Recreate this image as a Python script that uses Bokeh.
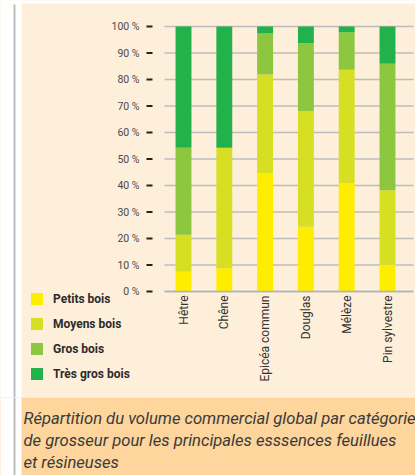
import math
from bokeh.plotting import figure
from bokeh.models import Range1d, BoxAnnotation, Label, ColumnDataSource
from bokeh.core.properties import value
from bokeh.layouts import column
from bokeh.embed import file_html
from bokeh.resources import INLINE

categories = ["Hêtre", "Chêne", "Epicéa commun", "Douglas", "Mélèze", "Pin sylvestre"]
petits_bois = [7.5, 8.8, 44.6, 24.4, 40.9, 10.1]
moyens_bois = [13.9, 45.4, 37.3, 43.7, 42.8, 28.1]
gros_bois = [32.8, 0.0, 15.5, 25.6, 14.1, 47.7]
tres_gros_bois = [45.8, 45.8, 2.6, 6.3, 2.2, 14.1]
y_ticks = [0, 10, 20, 30, 40, 50, 60, 70, 80, 90, 100]
y_tick_labels = ["0 %", "10 %", "20 %", "30 %", "40 %", "50 %", "60 %", "70 %", "80 %", "90 %", "100 %"]
series_names = ["Petits bois", "Moyens bois", "Gros bois", "Très gros bois"]
series_colors = ["#FFED00", "#D7DF23", "#8DC63F", "#22B24C"]
caption_lines = [
    "Répartition du volume commercial global par catégorie",
    "de grosseur pour les principales esssences feuillues",
    "et résineuses",
]

CREAM = "#FEEFDA"
ORANGE = "#FDD59D"
FONT = value("Roboto")

# geometry (pixels)
W = 415
TOP_H = 397            # chart band
CAP_H = 78             # caption band
STRIP_W = 21           # white strip at the left
FRAME_LEFT = 164       # left end of the plotting area
FRAME_RIGHT = 413
FIRST_CENTER = 183     # centre of first category
CAT_PX = 40.8          # pixels per category
Y0_PX = 291            # pixel row of 0 %
Y100_PX = 26           # pixel row of 100 %
PX_PER = (Y0_PX - Y100_PX) / 100.0

def dx(px):
    return px / CAT_PX

x_start = -FIRST_CENTER / CAT_PX
x_end = (W - FIRST_CENTER) / CAT_PX
y_start = -(TOP_H - Y0_PX) / PX_PER
y_end = 100 + Y100_PX / PX_PER
x_left = x_start + dx(FRAME_LEFT)
x_right = x_start + dx(FRAME_RIGHT)

def sbox(fig, left, right, bottom, top, color):
    fig.add_layout(BoxAnnotation(left=left, right=right, bottom=bottom, top=top,
                                 left_units="screen", right_units="screen",
                                 bottom_units="screen", top_units="screen",
                                 fill_color=color, fill_alpha=1, line_color=None,
                                 level="underlay"))

def bare(fig):
    fig.outline_line_color = None
    fig.xgrid.grid_line_color = None
    fig.ygrid.grid_line_color = None

# ---------------- chart band
p = figure(width=W, height=TOP_H, x_range=Range1d(x_start, x_end), y_range=Range1d(y_start, y_end),
           output_backend="svg", toolbar_location=None,
           x_axis_location=None, y_axis_location=None,
           min_border_left=0, min_border_right=0, min_border_top=0, min_border_bottom=0)
bare(p)
p.background_fill_color = CREAM
p.border_fill_color = CREAM
sbox(p, 0, STRIP_W, 0, TOP_H, "white")
sbox(p, 0, W, TOP_H - 3, TOP_H, "white")
sbox(p, 13, 15, 0, TOP_H - 4, "#BEBEBE")

# horizontal grid lines
gsrc = ColumnDataSource(dict(y=y_ticks, lab=y_tick_labels,
                             x0=[x_left] * len(y_ticks), x1=[x_right] * len(y_ticks),
                             t0=[x_left - dx(18)] * len(y_ticks), t1=[x_left - dx(12)] * len(y_ticks)))
p.segment(x0="x0", x1="x1", y0="y", y1="y", source=gsrc, line_color="#BDBDBD", line_width=1.5)

# stacked bars
data = ColumnDataSource(dict(x=list(range(len(categories))), cat=categories,
                             p=petits_bois, m=moyens_bois, g=gros_bois, t=tres_gros_bois))
p.vbar_stack(["p", "m", "g", "t"], x="x", width=0.39, source=data,
             color=series_colors, line_color=None, legend_label=series_names)

# x axis line and category labels
p.segment(x0=[x_left], x1=[x_right], y0=[0], y1=[0], line_color="#A9B3C1", line_width=1.5)
p.text(x="x", y=0, text="cat", source=data, angle=math.pi / 2, y_offset=4,
       text_align="right", text_baseline="middle",
       text_font=FONT, text_font_size="12px", text_color="#333333")

# y tick dashes and labels
p.segment(x0="t0", x1="t1", y0="y", y1="y", source=gsrc, line_color="#222222", line_width=2)
p.text(x="x0", y="y", text="lab", source=gsrc, x_offset=-25,
       text_align="right", text_baseline="middle",
       text_font=FONT, text_font_size="10.5px", text_color="#4A4A4A")

# legend
lg = p.legend[0]
lg.location = (29, 16)
lg.orientation = "vertical"
lg.glyph_width = 15
lg.glyph_height = 15
lg.label_height = 15
lg.label_standoff = 9
lg.spacing = 10
lg.padding = 0
lg.margin = 0
lg.background_fill_alpha = 0
lg.border_line_alpha = 0
lg.label_text_font = "Roboto"
lg.label_text_font_size = "12px"
lg.label_text_font_style = "bold"
lg.label_text_color = "#2B2B2B"

# ---------------- caption band
cap = figure(width=W, height=CAP_H, x_range=Range1d(0, W), y_range=Range1d(0, CAP_H),
             output_backend="svg", toolbar_location=None,
             x_axis_location=None, y_axis_location=None,
             min_border_left=0, min_border_right=0, min_border_top=0, min_border_bottom=0)
bare(cap)
cap.background_fill_color = ORANGE
cap.border_fill_color = ORANGE
sbox(cap, 0, STRIP_W, 0, CAP_H, "white")
sbox(cap, 13, 15, 0, CAP_H, "#BEBEBE")
for i, line in enumerate(caption_lines):
    cap.add_layout(Label(x=STRIP_W + 2, y=CAP_H - 21 - 22 * i, x_units="screen", y_units="screen",
                         text=line, text_font="Roboto", text_font_size="16.6px",
                         text_font_style="italic", text_color="#3A3A3A",
                         text_baseline="alphabetic"))

layout = column(p, cap)
open("out.html", "w").write(file_html(layout, INLINE))
